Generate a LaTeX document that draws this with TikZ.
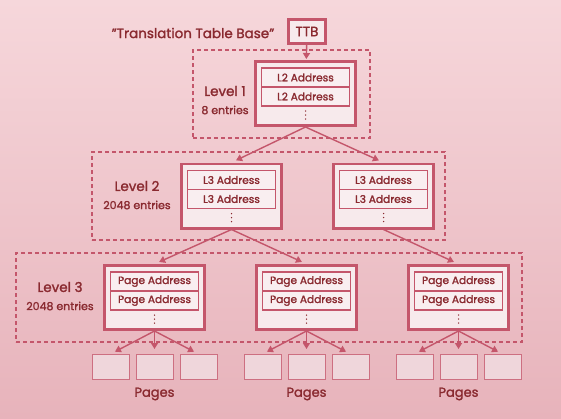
\documentclass[tikz,border=0pt]{standalone}
\usepackage{fontspec}
\setmainfont{Poppins}[BoldFont=Poppins,BoldFeatures={FakeBold=1.6}]
\usetikzlibrary{arrows.meta}
\definecolor{txt}{HTML}{8A2A30}
\definecolor{edge}{HTML}{C4566B}
\definecolor{fillc}{HTML}{F7EAEC}
\definecolor{rowf}{HTML}{F9EEF0}
\definecolor{pagef}{HTML}{EFD6DB}
\definecolor{bgtop}{HTML}{F6D7DB}
\definecolor{bgbot}{HTML}{E7B3BB}
\newcommand\maketable[4]{%
  \node[tbl] (#1) at (#2,#3) {};
  \node[rowbox] (#1-r1) at ([yshift=16pt]#1.center) {#4};
  \node[rowbox] (#1-r2) at ([yshift=-3pt]#1.center) {#4};
  \foreach \dy in {17.5,21.5,25.5}{\fill[txt] ([yshift=-\dy pt]#1.center) circle (0.75pt);}
}
\begin{document}
\begin{tikzpicture}[x=1pt,y=-1pt,
  tbl/.style={draw=edge,line width=2.6pt,fill=fillc,minimum width=100.4pt,minimum height=64.4pt,inner sep=0pt},
  rowbox/.style={draw=edge,line width=1.2pt,fill=rowf,minimum width=88pt,minimum height=19pt,inner sep=0pt,text=txt,font=\fontsize{10.6}{11}\selectfont\bfseries},
  lvl/.style={text=txt,font=\fontsize{13.5}{15}\selectfont\bfseries},
  ent/.style={text=txt,font=\fontsize{11}{12}\selectfont\bfseries},
  dbox/.style={draw=edge,line width=1.1pt,dash pattern=on 4pt off 3pt,inner sep=0pt},
  pg/.style={draw=edge!85,line width=1pt,fill=pagef,minimum width=37pt,minimum height=25pt,inner sep=0pt},
  arr/.style={draw=edge,line width=1.4pt,-{Triangle[length=6pt,width=7pt]},shorten >=5pt},
  ttbbox/.style={draw=edge,line width=2.8pt,fill=fillc,minimum width=37pt,minimum height=24pt,inner sep=0pt,text=txt,font=\fontsize{13.5}{14}\selectfont\bfseries}
]
\shade[top color=bgtop,bottom color=bgbot] (0,0) rectangle (561,418);
\useasboundingbox (0,0) rectangle (561,418);

% dashed level boxes
\node[dbox,minimum width=177pt,minimum height=88pt] (d1) at (281.5,94) {};
\node[dbox,minimum width=353pt,minimum height=88pt] (d2) at (268.5,196) {};
\node[dbox,minimum width=506pt,minimum height=89pt] (d3) at (269,297.5) {};

% TTB
\node[text=txt,font=\fontsize{13.5}{15}\selectfont\bfseries] (ttbl) at (193,33) {"Translation Table Base"};
\node[ttbbox] (ttb) at (307,31.5) {TTB};

% tables
\maketable{l1}{305.5}{93.5}{L2 Address}
\maketable{l2a}{231.5}{196}{L3 Address}
\maketable{l2b}{383.5}{196}{L3 Address}
\maketable{l3a}{154.5}{297.5}{Page Address}
\maketable{l3b}{306.5}{297.5}{Page Address}
\maketable{l3c}{458.5}{297.5}{Page Address}

% level labels
\node[lvl] (lv1) at (225,91) {Level 1};
\node[ent] (en1) at (225,110) {8 entries};
\node[lvl] (lv2) at (137,186) {Level 2};
\node[ent] (en2) at (137,205) {2048 entries};
\node[lvl] (lv3) at (60,287) {Level 3};
\node[ent] (en3) at (60,306) {2048 entries};

% pages
\foreach \g/\cx in {a/154.5,b/306.5,c/458.5}{
  \node[pg] (p\g1) at (\cx-44,367) {};
  \node[pg] (p\g2) at (\cx,367) {};
  \node[pg] (p\g3) at (\cx+44,367) {};
  \node[lvl,font=\fontsize{13}{15}\selectfont\bfseries] (pl\g) at (\cx,394) {Pages};
}

% arrows
\draw[arr,shorten >=1pt] (ttb) -- (l1);
\draw[arr] (l1.south) -- (l2a.north);
\draw[arr] (l1.south) -- (l2b.north);
\draw[arr] (l2a.south) -- (l3a.north);
\draw[arr] (l2a.south) -- (l3b.north);
\draw[arr] (l2b.south) -- (l3c.north);
\foreach \g in {a,b,c}{
  \draw[arr] (l3\g.south) -- (p\g1.north);
  \draw[arr] (l3\g.south) -- (p\g2.north);
  \draw[arr] (l3\g.south) -- (p\g3.north);
}
\end{tikzpicture}
\end{document}
